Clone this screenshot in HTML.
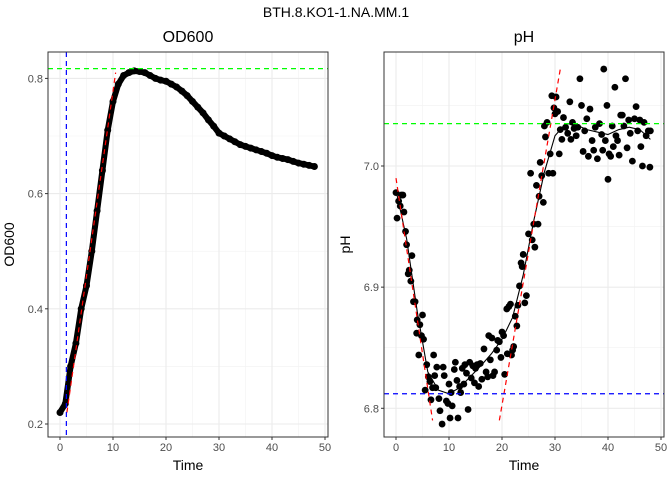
<!DOCTYPE html>
<html><head><meta charset="utf-8"><style>
body{margin:0;background:#fff;font-family:"Liberation Sans",sans-serif}
text{font-family:"Liberation Sans",sans-serif}
</style></head><body>
<svg id="chart" width="672" height="480" xmlns="http://www.w3.org/2000/svg"></svg>
<script>
const odTimes=[0,1,2,3,4,5,6,7,8,9,10,11,12,13,14,15,16,17,18,19,20,21,22,23,24,25,26,27,28,29,30,31,32,33,34,35,36,37,38,39,40,41,42,43,44,45,46,47,48];
const odValues=[0.22,0.235,0.30,0.34,0.40,0.44,0.50,0.57,0.64,0.71,0.76,0.79,0.805,0.81,0.813,0.812,0.81,0.805,0.80,0.797,0.795,0.79,0.785,0.778,0.77,0.76,0.75,0.74,0.728,0.717,0.705,0.70,0.695,0.69,0.685,0.682,0.679,0.676,0.673,0.67,0.666,0.663,0.661,0.659,0.656,0.653,0.651,0.649,0.647];
const odTangent=[[1.3,0.22],[10.5,0.81]];
const odLagTime=1.2;
const odMax=0.817;
const phTimes=[0,0.2,0.5,0.8,1,1.3,1.5,1.8,2,2.3,2.5,2.8,3,3.3,3.6,3.9,4,4.3,4.5,4.8,5,5.2,5.5,5.8,6.1,6.4,6.6,6.9,7.1,7.3,7.5,7.7,8.1,8.3,8.7,8.9,9.1,9.5,9.8,10,10.2,10.4,10.6,11,11.2,11.5,11.7,12,12.2,12.5,12.8,13,13.3,13.6,13.9,14.2,14.5,14.8,15,15.3,15.6,15.9,16.2,16.6,17,17.3,17.5,17.8,18.1,18.3,18.6,19,19.2,19.5,19.8,20,20.3,20.5,20.9,21,21.3,21.6,21.8,22,22.2,22.5,22.8,23,23.3,23.6,23.8,24,24.3,24.6,25,25.4,25.7,26,26.2,26.5,26.8,27,27.2,27.5,27.8,28,28.2,28.5,28.8,29.1,29.4,29.6,29.8,30,30.2,30.5,30.8,31,31.3,31.6,32,32.4,32.8,33,33.3,33.6,34,34.3,34.7,35,35.3,35.6,36,36.3,36.6,37,37.3,37.6,38,38.4,38.8,39,39.2,39.5,39.8,40,40.2,40.5,40.8,41,41.3,41.5,41.8,42.1,42.4,42.7,43,43.3,43.6,43.9,44.2,44.6,45,45.3,45.6,46,46.2,46.5,46.8,47.2,47.6,47.9,48];
const phValues=[6.978,6.957,6.971,6.967,6.976,6.976,6.962,6.946,6.935,6.911,6.914,6.905,6.926,6.888,6.888,6.862,6.873,6.844,6.869,6.860,6.877,6.857,6.815,6.836,6.826,6.822,6.807,6.817,6.844,6.827,6.817,6.834,6.808,6.798,6.787,6.834,6.827,6.806,6.804,6.820,6.792,6.813,6.802,6.832,6.838,6.823,6.792,6.818,6.813,6.833,6.820,6.836,6.829,6.799,6.838,6.825,6.835,6.821,6.833,6.836,6.818,6.837,6.824,6.849,6.830,6.826,6.860,6.840,6.858,6.827,6.830,6.848,6.856,6.855,6.842,6.863,6.860,6.828,6.882,6.845,6.884,6.886,6.844,6.848,6.851,6.876,6.868,6.885,6.901,6.920,6.917,6.927,6.887,6.893,6.944,6.994,6.939,6.952,6.933,6.984,6.952,6.975,7.003,6.992,6.970,7.033,7.024,7.036,6.994,7.010,7.058,6.994,7.048,7.043,7.057,7.045,7.010,7.030,7.022,7.040,7.032,7.027,7.053,7.022,7.036,7.031,7.025,7.032,7.072,7.050,7.012,7.029,7.039,7.008,7.047,7.021,7.013,7.032,7.006,7.035,7.026,7.013,7.080,7.021,7.050,6.989,7.010,7.008,7.033,7.016,7.065,7.025,7.021,7.009,7.042,7.042,7.033,7.072,7.015,7.038,7.027,7.004,7.039,7.049,7.029,7.038,7.016,7.000,7.036,7.025,7.029,6.999,7.029];
const phSmoothT=[0,2,4,6,8,10,12,14,16,18,20,22,24,26,28,30,32,34,36,38,40,42,44,46,48];
const phSmoothV=[6.98,6.94,6.88,6.83,6.815,6.812,6.817,6.826,6.835,6.845,6.857,6.875,6.91,6.955,6.995,7.025,7.035,7.034,7.030,7.028,7.026,7.030,7.032,7.030,7.022];
const phTangent1=[[0,6.99],[6.9,6.79]];
const phTangent2=[[19.5,6.79],[31,7.08]];
const phMax=7.035;
const phMin=6.812;
const xTicks=[0,10,20,30,40,50];
const odTicks=[0.2,0.4,0.6,0.8];
const phTicks=[6.8,6.9,7.0];

const NS="http://www.w3.org/2000/svg";
const svg=document.getElementById('chart');
function el(tag,attrs,parent){const e=document.createElementNS(NS,tag);for(const k in attrs)e.setAttribute(k,attrs[k]);(parent||svg).appendChild(e);return e;}
function txt(s,attrs,name){const t=el('text',attrs);t.textContent=s;


return t;}

const mt=txt('BTH.8.KO1-1.NA.MM.1',{x:336,y:17,'font-size':14,'text-anchor':'middle',fill:'#000'},'main-title');

function panel(cfg){
  const g=el('g',{});
  
  
  const X=t=>cfg.x0+t*cfg.xs;
  const Y=v=>cfg.y0-(v-cfg.v0)*cfg.ys;
  el('rect',{x:cfg.l,y:cfg.t,width:cfg.r-cfg.l,height:cfg.b-cfg.t,fill:'#fff'},g);
  // minor grid
  for(let i=0;i<xTicks.length-1;i++){const xx=X((xTicks[i]+xTicks[i+1])/2);el('line',{x1:xx,x2:xx,y1:cfg.t,y2:cfg.b,stroke:'#f2f2f2','stroke-width':0.6},g);}
  cfg.minor.forEach(v=>{el('line',{x1:cfg.l,x2:cfg.r,y1:Y(v),y2:Y(v),stroke:'#f2f2f2','stroke-width':0.6},g);});
  xTicks.forEach(t=>{el('line',{x1:X(t),x2:X(t),y1:cfg.t,y2:cfg.b,stroke:'#ebebeb','stroke-width':1.1},g);});
  cfg.yt.forEach(v=>{el('line',{x1:cfg.l,x2:cfg.r,y1:Y(v),y2:Y(v),stroke:'#ebebeb','stroke-width':1.1},g);});
  cfg.draw(g,X,Y);
  el('rect',{x:cfg.l,y:cfg.t,width:cfg.r-cfg.l,height:cfg.b-cfg.t,fill:'none',stroke:'#333','stroke-width':1},g);
  xTicks.forEach(t=>{el('line',{x1:X(t),x2:X(t),y1:cfg.b,y2:cfg.b+3,stroke:'#333'},g);
    txt(String(t),{x:X(t),y:cfg.b+14,'font-size':11,'text-anchor':'middle',fill:'#4d4d4d'},'x-tick-label');});
  cfg.yt.forEach(v=>{el('line',{x1:cfg.l-3,x2:cfg.l,y1:Y(v),y2:Y(v),stroke:'#333'},g);
    txt(v.toFixed(1),{x:cfg.l-5,y:Y(v)+4,'font-size':11,'text-anchor':'end',fill:'#4d4d4d'},'y-tick-label');});
  txt('Time',{x:(cfg.l+cfg.r)/2,y:470,'font-size':14,'text-anchor':'middle'},'x-axis-title');
  const yc=(cfg.t+cfg.b)/2, yx=cfg.l-34;
  txt(cfg.title,{x:yx,y:yc,'font-size':14,'text-anchor':'middle',transform:`rotate(-90 ${yx} ${yc})`},'y-axis-title');
  txt(cfg.title,{x:(cfg.l+cfg.r)/2,y:42,'font-size':16,'text-anchor':'middle'},'panel-title');
}
function dash(g,p,color,name){const l=el('line',{x1:p[0][0],y1:p[0][1],x2:p[1][0],y2:p[1][1],stroke:color,'stroke-width':1.2,'stroke-dasharray':'5,4'},g);

}

panel({name:'od600-panel',title:'OD600',l:48,r:328,t:52,b:437,x0:60,xs:5.3,y0:424,v0:0.2,ys:576,yt:odTicks,minor:[0.3,0.5,0.7],
draw(g,X,Y){
  const pts=odTimes.map((t,i)=>X(t)+','+Y(odValues[i])).join(' ');
  const pl=el('polyline',{points:pts,fill:'none',stroke:'#000','stroke-width':6,'stroke-linejoin':'round','stroke-linecap':'round'},g);
  
  
  odTimes.forEach((t,i)=>{const c=el('circle',{cx:X(t),cy:Y(odValues[i]),r:3.5,fill:'#000'},g);
    
    });
  dash(g,odTangent.map(p=>[X(p[0]),Y(p[1])]),'#ff0000','od-tangent');
  dash(g,[[X(odLagTime),52],[X(odLagTime),437]],'#0000ff','lag-time-line');
  dash(g,[[48,Y(odMax)],[328,Y(odMax)]],'#00ff00','od-max-line');
}});

panel({name:'ph-panel',title:'pH',l:384,r:664,t:52,b:437,x0:396,xs:5.3,y0:408.3,v0:6.8,ys:1211.5,yt:phTicks,minor:[6.85,6.95,7.05],
draw(g,X,Y){
  phTimes.forEach((t,i)=>{const c=el('circle',{cx:X(t),cy:Y(phValues[i]),r:3.4,fill:'#000'},g);
    
    });
  const pts=phSmoothT.map((t,i)=>X(t)+','+Y(phSmoothV[i])).join(' ');
  const pl=el('polyline',{points:pts,fill:'none',stroke:'#000','stroke-width':1.1},g);
  
  
  dash(g,phTangent1.map(p=>[X(p[0]),Y(p[1])]),'#ff0000','ph-decline-tangent');
  dash(g,phTangent2.map(p=>[X(p[0]),Y(p[1])]),'#ff0000','ph-rise-tangent');
  dash(g,[[384,Y(phMax)],[664,Y(phMax)]],'#00ff00','ph-max-line');
  dash(g,[[384,Y(phMin)],[664,Y(phMin)]],'#0000ff','ph-min-line');
}});
</script>
</body></html>
